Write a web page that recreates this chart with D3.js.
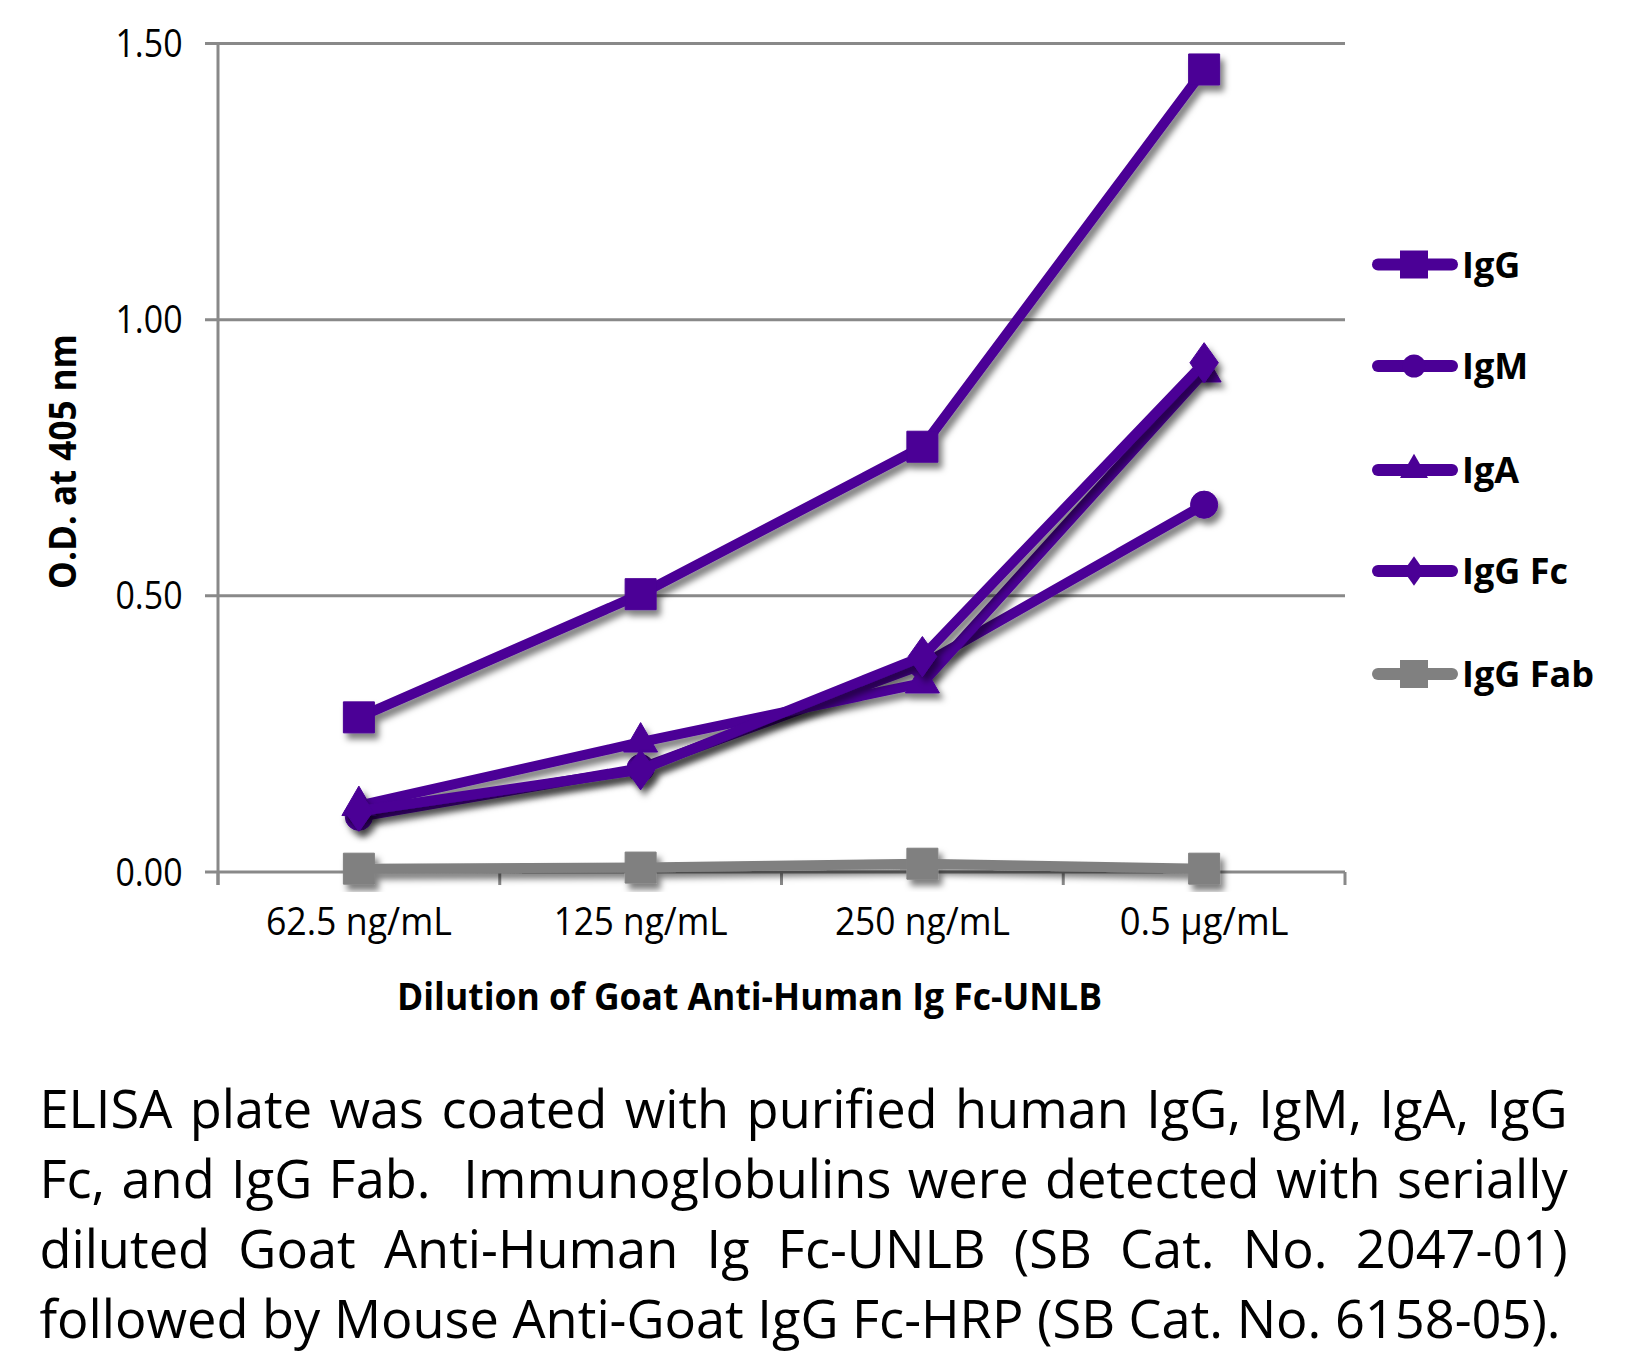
<!DOCTYPE html>
<html><head><meta charset="utf-8">
<script src="https://cdn.jsdelivr.net/npm/d3@7"></script>
<style>html,body{margin:0;padding:0;background:#fff;} svg{display:block}</style>
</head><body>
<svg id="chart" width="1626" height="1353"></svg>
<script>
// ---- data ----
const categories = ["62.5 ng/mL", "125 ng/mL", "250 ng/mL", "0.5 µg/mL"];
const seriesNames = ["IgG", "IgM", "IgA", "IgG Fc", "IgG Fab"];
const valuesIgG   = [0.280, 0.503, 0.770, 1.453];
const valuesIgM   = [0.100, 0.188, 0.375, 0.665];
const valuesIgA   = [0.120, 0.235, 0.342, 0.905];
const valuesIgGFc = [0.110, 0.185, 0.390, 0.922];
const valuesIgGFab = [0.006, 0.008, 0.015, 0.006];
const yTicks = [0, 0.5, 1.0, 1.5];
const yTickLabels = ["0.00", "0.50", "1.00", "1.50"];
const yTitle = "O.D. at 405 nm";
const xTitle = "Dilution of Goat Anti-Human Ig Fc-UNLB";
const captionLines = [
  "ELISA plate was coated with purified human IgG, IgM, IgA, IgG",
  "Fc, and IgG Fab.  Immunoglobulins were detected with serially",
  "diluted Goat Anti-Human Ig Fc-UNLB (SB Cat. No. 2047-01)",
  "followed by Mouse Anti-Goat IgG Fc-HRP (SB Cat. No. 6158-05)."
];
const seriesValues = [valuesIgG, valuesIgM, valuesIgA, valuesIgGFc, valuesIgGFab];

// ---- styles ----
const purple = "#4B0096", gray = "#808080", gridColor = "#898989";
const symbolDiamondTall = { draw(ctx, size) { const r = Math.sqrt(size / 2); const h = r * 1.2, w = r * 0.85; ctx.moveTo(0, -h); ctx.lineTo(w, 0); ctx.lineTo(0, h); ctx.lineTo(-w, 0); ctx.closePath(); } };
const seriesStyle = [
  { color: purple, type: d3.symbolSquare, size: 961, lsize: 784 },
  { color: purple, type: d3.symbolCircle, size: 580, lsize: 415 },
  { color: purple, type: d3.symbolTriangle, size: 500, lsize: 340 },
  { color: purple, type: symbolDiamondTall, size: 560, lsize: 300 },
  { color: gray, type: d3.symbolSquare, size: 961, lsize: 784 }
];

const svg = d3.select("#chart");
const plot = { left: 218, right: 1345, top: 43.5, bottom: 872 };
const x = d3.scaleBand().domain(categories).range([plot.left, plot.right]).padding(0);
const y = d3.scaleLinear().domain([0, 1.5]).range([plot.bottom, plot.top]);
const cx = c => x(c) + x.bandwidth() / 2;

const defs = svg.append("defs");
const f = defs.append("filter").attr("id", "shadow").attr("x", "-20%").attr("y", "-20%").attr("width", "140%").attr("height", "140%");
f.append("feDropShadow").attr("dx", 4).attr("dy", 6).attr("stdDeviation", 3).attr("flood-color", "#000").attr("flood-opacity", 0.5);

// gridlines
svg.append("g").selectAll("line").data(yTicks).join("line")
  .attr("x1", plot.left - 13).attr("x2", plot.right)
  .attr("y1", d => y(d)).attr("y2", d => y(d))
  .attr("stroke", gridColor).attr("stroke-width", 3);
// y axis line
svg.append("line").attr("x1", plot.left).attr("x2", plot.left)
  .attr("y1", y(1.5)).attr("y2", plot.bottom + 13)
  .attr("stroke", gridColor).attr("stroke-width", 3);
// x ticks at category boundaries
const xb = categories.map(c => x(c)).concat([plot.right]);
svg.append("g").selectAll("line").data(xb).join("line")
  .attr("x1", d => d).attr("x2", d => d)
  .attr("y1", plot.bottom).attr("y2", plot.bottom + 13)
  .attr("stroke", gridColor).attr("stroke-width", 3);

// y tick labels
svg.append("g").attr("font-family", "'Open Sans'").attr("font-size", 38).attr("fill", "#000")
  .selectAll("text").data(yTicks).join("text")
  .attr("x", 182.5 - 67).attr("y", d => y(d) + 13.5)
  .attr("textLength", 67).attr("lengthAdjust", "spacingAndGlyphs")
  .text((d, i) => yTickLabels[i]);

// x tick labels
const xLabW = [186, 174, 175, 169];
svg.append("g").attr("font-family", "'Open Sans'").attr("font-size", 38).attr("fill", "#000")
  .selectAll("text").data(categories).join("text")
  .attr("x", (d, i) => cx(d) - xLabW[i] / 2).attr("y", 935)
  .attr("textLength", (d, i) => xLabW[i]).attr("lengthAdjust", "spacingAndGlyphs")
  .text(d => d);

// axis titles
svg.append("text").attr("font-family", "'Open Sans'").attr("font-weight", "bold").attr("font-size", 38)
  .attr("x", 397).attr("y", 1010).attr("textLength", 705).attr("lengthAdjust", "spacingAndGlyphs").text(xTitle);
svg.append("text").attr("font-family", "'Open Sans'").attr("font-weight", "bold").attr("font-size", 38)
  .attr("transform", "translate(76,589) rotate(-90)").attr("x", 0).attr("y", 0)
  .attr("textLength", 255).attr("lengthAdjust", "spacingAndGlyphs").text(yTitle);

// series
const line = d3.line().x((d, i) => cx(categories[i])).y(d => y(d));
seriesValues.forEach((vals, si) => {
  const st = seriesStyle[si];
  const g = svg.append("g").attr("filter", "url(#shadow)");
  g.append("path").attr("d", line(vals)).attr("fill", "none").attr("stroke", st.color)
    .attr("stroke-width", 10).attr("stroke-linejoin", "round");
  g.selectAll("path.m").data(vals).join("path").attr("class", "m")
    .attr("transform", (d, i) => `translate(${cx(categories[i])},${y(d)})`)
    .attr("d", d3.symbol().type(st.type).size(st.size)())
    .attr("fill", st.color).attr("stroke", st.color).attr("stroke-width", 1);
});

// legend
const legY = [264.5, 366, 470, 571, 674];
const leg = svg.append("g");
seriesNames.forEach((name, i) => {
  const st = seriesStyle[i];
  const g = leg.append("g").attr("transform", `translate(0,${legY[i]})`);
  g.append("line").attr("x1", 1378).attr("x2", 1452).attr("y1", 0).attr("y2", 0)
    .attr("stroke", st.color).attr("stroke-width", 12).attr("stroke-linecap", "round");
  g.append("path").attr("transform", "translate(1414,0)")
    .attr("d", d3.symbol().type(st.type).size(st.lsize)()).attr("fill", st.color);
  g.append("text").attr("x", 1462).attr("y", 13).attr("font-family", "'Open Sans'")
    .attr("font-weight", "bold").attr("font-size", 36).attr("fill", "#000").text(name);
});

// caption (justified)
const capG = svg.append("g").attr("font-family", "'Open Sans'").attr("font-size", 53).attr("fill", "#000");
const capTargets = [1528.6, 1528.6, 1528.6, 1521.5];
const capBase = [1128, 1198, 1268, 1338];
const capX = 39.4;
const nodes = captionLines.map(t => capG.append("text").style("white-space", "pre").attr("x", 0).attr("y", 0).text(t));
const nat = nodes.map(n => n.node().getComputedTextLength());
const k = Math.min(1, ...nat.map((w, i) => capTargets[i] / w));
nodes.forEach((n, i) => {
  const spaces = (captionLines[i].match(/ /g) || []).length;
  const extra = (capTargets[i] / k - nat[i]) / spaces;
  n.attr("word-spacing", extra).attr("transform", `translate(${capX},${capBase[i]}) scale(${k},1)`);
});
</script>
</body></html>
